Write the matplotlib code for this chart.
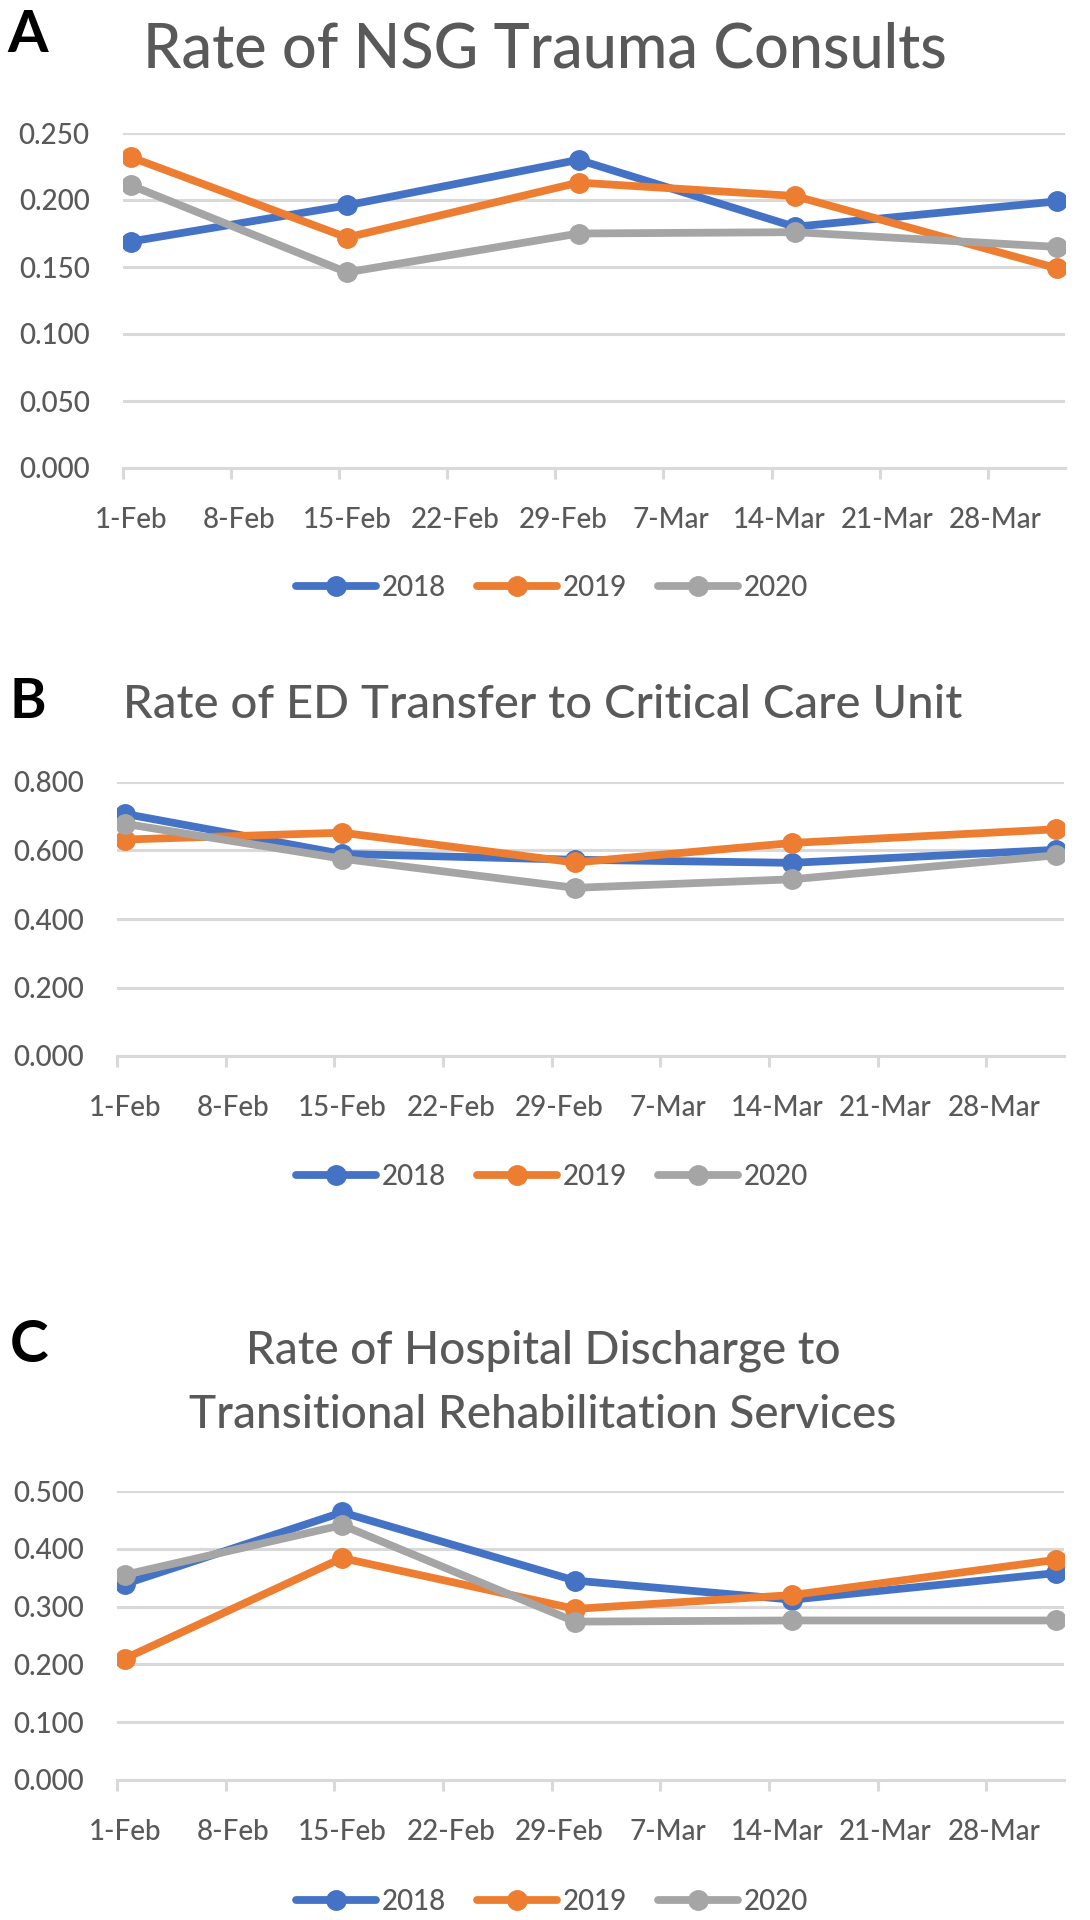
import numpy as np
import pandas as pd
import matplotlib
matplotlib.use('Agg')
import matplotlib.pyplot as plt

plt.rcParams['font.family'] = ['Lato', 'DejaVu Sans']
plt.rcParams['font.weight'] = 500

# data: observation dates (2020 calendar) and rates per year
obs_dates = ['2020-02-01', '2020-02-15', '2020-03-01', '2020-03-15', '2020-04-01']
years = ['2018', '2019', '2020']
colors = ['#4472C4', '#ED7D31', '#A5A5A5']

nsg_2018 = [0.169, 0.196, 0.230, 0.180, 0.199]
nsg_2019 = [0.232, 0.172, 0.213, 0.203, 0.149]
nsg_2020 = [0.211, 0.146, 0.175, 0.176, 0.165]

ed_2018 = [0.707, 0.590, 0.573, 0.564, 0.602]
ed_2019 = [0.632, 0.652, 0.565, 0.622, 0.662]
ed_2020 = [0.678, 0.576, 0.491, 0.516, 0.586]

dc_2018 = [0.339, 0.463, 0.345, 0.312, 0.358]
dc_2019 = [0.210, 0.384, 0.296, 0.320, 0.381]
dc_2020 = [0.355, 0.441, 0.274, 0.276, 0.276]

tick_labels = ['1-Feb', '8-Feb', '15-Feb', '22-Feb', '29-Feb', '7-Mar', '14-Mar', '21-Mar', '28-Mar']

start = pd.Timestamp('2020-02-01')
days = np.array([(pd.Timestamp(d) - start).days for d in obs_dates]) + 0.5  # excel puts points mid-day

W, H = 1090, 1920
fig = plt.figure(figsize=(W / 100, H / 100), dpi=100)

GRID = '#D9D9D9'
TXT = '#595959'


def px_axes(left, top, right, bottom):
    return fig.add_axes([left / W, 1 - bottom / H, (right - left) / W, (bottom - top) / H])


def draw_panel(ax, series, ymax, ystep, legend_y):
    for lab, vals, c in zip(years, series, colors):
        ax.plot(days, vals, color=c, lw=5.6, marker='o', ms=14, label=lab,
                solid_capstyle='round', zorder=3)
    ax.set_xlim(0, 61)
    ax.set_ylim(0, ymax)
    ax.set_yticks(np.arange(0, ymax + ystep / 2, ystep))
    ax.set_yticklabels([f'{v:.3f}' for v in np.arange(0, ymax + ystep / 2, ystep)])
    ax.yaxis.grid(True, color=GRID, lw=2.2)
    ax.set_axisbelow(True)
    ax.set_xticks(np.arange(9) * 7 + 0.5)
    ax.set_xticklabels(tick_labels)
    ax.set_xticks(np.arange(9) * 7, minor=True)
    ax.tick_params(axis='x', which='major', length=0, pad=28, labelsize=20, labelcolor=TXT)
    ax.tick_params(axis='x', which='minor', length=8, width=2.2, color=GRID)
    ax.tick_params(axis='y', length=0, pad=24, labelsize=20, labelcolor=TXT)
    for s in ['top', 'left', 'right']:
        ax.spines[s].set_visible(False)
    ax.spines['bottom'].set_color(GRID)
    ax.spines['bottom'].set_linewidth(2.2)
    ax.legend(loc='center', bbox_to_anchor=(552 / W, 1 - legend_y / H),
              bbox_transform=fig.transFigure, ncol=3, frameon=False,
              fontsize=20, labelcolor=TXT, handlelength=2.9, handletextpad=0.2,
              columnspacing=1.1)


# panel A
axA = px_axes(123, 133, 1065, 468)
draw_panel(axA, [nsg_2018, nsg_2019, nsg_2020], 0.25, 0.05, 588)
fig.text(7 / W, 1 - 52 / H, 'A', fontsize=42, fontweight='bold', color='black', va='baseline')
fig.text(545 / W, 1 - 67 / H, 'Rate of NSG Trauma Consults', fontsize=44, color=TXT,
         ha='center', va='baseline')

# panel B
axB = px_axes(117, 782, 1064, 1056)
draw_panel(axB, [ed_2018, ed_2019, ed_2020], 0.8, 0.2, 1177)
fig.text(10 / W, 1 - 718 / H, 'B', fontsize=40, fontweight='bold', color='black', va='baseline')
fig.text(543 / W, 1 - 718 / H, 'Rate of ED Transfer to Critical Care Unit', fontsize=34,
         color=TXT, ha='center', va='baseline')

# panel C
axC = px_axes(117, 1491, 1064, 1780)
draw_panel(axC, [dc_2018, dc_2019, dc_2020], 0.5, 0.1, 1902)
fig.text(10 / W, 1 - 1362 / H, 'C', fontsize=42, fontweight='bold', color='black', va='baseline')
fig.text(543 / W, 1 - 1363 / H, 'Rate of Hospital Discharge to', fontsize=33,
         color=TXT, ha='center', va='baseline')
fig.text(543 / W, 1 - 1428 / H, 'Transitional Rehabilitation Services', fontsize=33,
         color=TXT, ha='center', va='baseline')

fig.savefig('out.png', dpi=100, facecolor='white')
